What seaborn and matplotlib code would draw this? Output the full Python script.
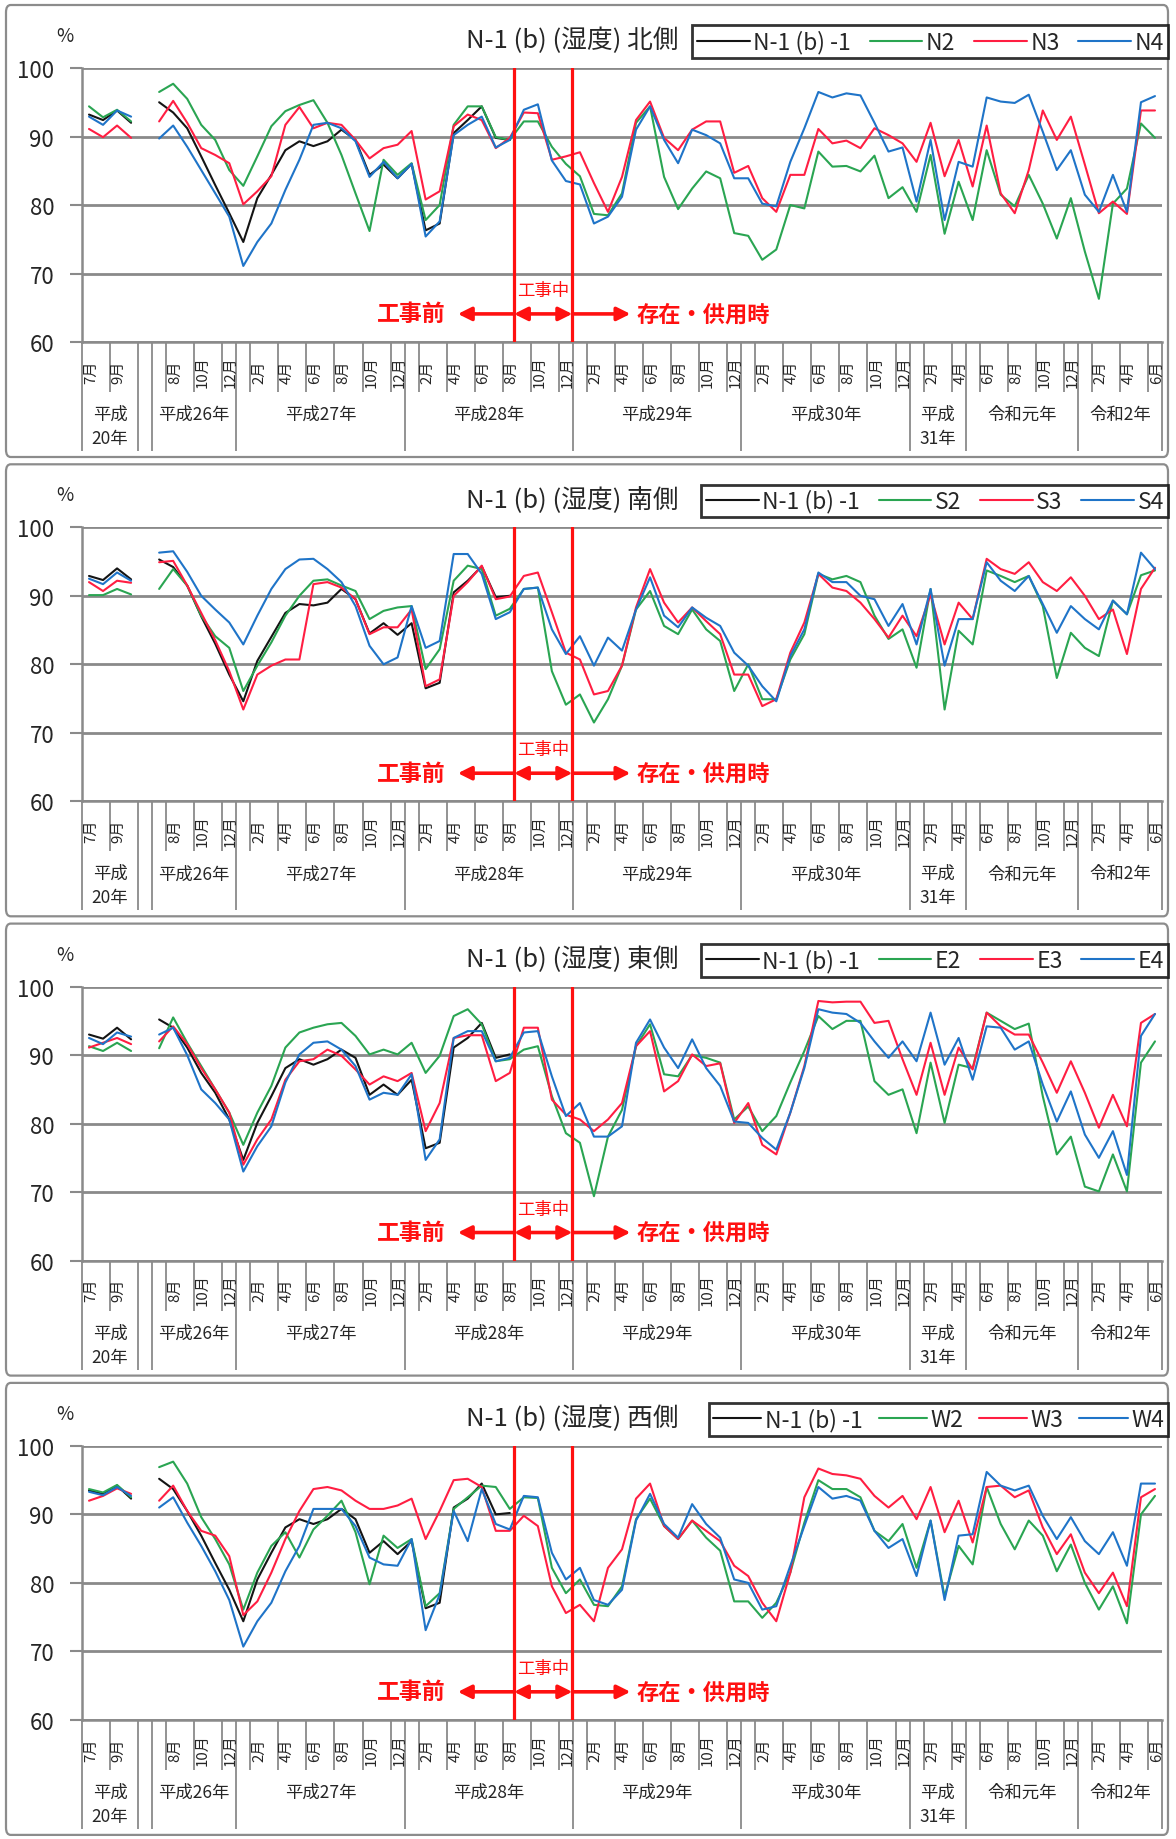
import numpy as np
import pandas as pd
import matplotlib
matplotlib.use("Agg")
import matplotlib.pyplot as plt
from matplotlib.lines import Line2D
from matplotlib.patches import FancyBboxPatch
import seaborn as sns

sns.set_theme(style="white")
plt.rcParams['font.family'] = ['Noto Sans CJK JP', 'DejaVu Sans']

# ---------------- data ----------------
N = None
# month of each category (None = blank gap category)
cat_months = [7, 8, 9, 10, N,
              7, 8, 9, 10, 11, 12,
              1, 2, 3, 4, 5, 6, 7, 8, 9, 10, 11, 12,
              1, 2, 3, 4, 5, 6, 7, 8, 9, 10, 11, 12,
              1, 2, 3, 4, 5, 6, 7, 8, 9, 10, 11, 12,
              1, 2, 3, 4, 5, 6, 7, 8, 9, 10, 11, 12,
              1, 2, 3, 4,
              5, 6, 7, 8, 9, 10, 11, 12,
              1, 2, 3, 4, 5, 6]
year_groups = [("平成\n20年", 0, 3), ("平成26年", 5, 10), ("平成27年", 11, 22),
               ("平成28年", 23, 34), ("平成29年", 35, 46), ("平成30年", 47, 58),
               ("平成\n31年", 59, 62), ("令和元年", 63, 70), ("令和2年", 71, 76)]

panel_titles = ["N-1 (b) (湿度) 北側", "N-1 (b) (湿度) 南側",
                "N-1 (b) (湿度) 東側", "N-1 (b) (湿度) 西側"]
series_names = [["N-1 (b) -1", "N2", "N3", "N4"],
                ["N-1 (b) -1", "S2", "S3", "S4"],
                ["N-1 (b) -1", "E2", "E3", "E4"],
                ["N-1 (b) -1", "W2", "W3", "W4"]]

TAIL = [N] * 46

# ---- north ----
north_ref = [93.2, 92.4, 93.8, 92.0, N,
             95.0, 93.5, 91.2, 87.1, 82.9, 78.8, 74.6, 81.0, 84.4, 88.0, 89.3, 88.6, 89.3,
             91.0, 89.5, 84.4, 85.9, 83.9, 86.0, 76.3, 77.3, 90.5, 92.4, 94.4, 89.8, 89.5] + TAIL
north_2 = [94.4, 92.8, 93.9, 92.2, N,
           96.5, 97.7, 95.5, 91.7, 89.5, 85.1, 82.8, 87.1, 91.5, 93.7, 94.6, 95.3, 92.0, 87.3,
           81.7, 76.2, 86.6, 84.4, 86.1, 77.8, 80.0, 91.7, 94.4, 94.4, 89.9, 89.5, 92.2, 92.2,
           88.5, 86.0, 84.2, 78.7,
           78.5, 81.7, 92.0, 94.4, 84.1, 79.4, 82.4, 84.9, 83.9, 75.9, 75.5, 72.0, 73.5, 80.0,
           79.5, 87.8, 85.6, 85.7, 84.9, 87.2, 81.0, 82.6, 79.0, 87.3, 75.8, 83.4, 77.8, 88.0,
           81.5, 79.8, 84.4, 80.2, 75.1, 81.0, 73.2, 66.3, 80.2, 82.4, 91.9, 89.8]
north_3 = [91.1, 89.9, 91.6, 89.8, N,
           92.2, 95.2, 92.0, 88.3, 87.3, 86.1, 80.1, 82.0, 84.2, 91.7, 94.3, 91.2, 92.0, 91.7,
           89.5, 86.8, 88.3, 88.8, 90.8, 80.8, 82.0, 91.5, 93.2, 92.4, 88.3, 89.8, 93.5, 93.4,
           86.6, 87.1, 87.7, 83.2,
           79.0, 84.1, 92.4, 95.1, 89.8, 88.0, 91.0, 92.2, 92.2, 84.7, 85.7, 81.0, 79.0, 84.4,
           84.4, 91.1, 89.0, 89.4, 88.3, 91.2, 90.2, 89.0, 86.3, 92.0, 84.2, 89.5, 82.7, 91.6,
           81.7, 78.8, 85.1, 93.8, 89.5, 92.9, 85.9, 78.8, 80.5, 78.7, 93.8, 93.8]
north_4 = [92.9, 91.7, 93.8, 92.9, N,
           89.7, 91.6, 88.5, 85.1, 81.7, 78.3, 71.1, 74.6, 77.3, 82.2, 86.6, 91.7, 92.0, 91.2,
           89.3, 84.1, 86.3, 83.9, 86.0, 75.4, 77.6, 90.2, 91.7, 92.9, 88.4, 89.5, 93.9, 94.7,
           86.5, 83.5, 83.0, 77.3,
           78.3, 81.2, 91.0, 94.4, 89.5, 86.1, 91.0, 90.2, 89.0, 83.9, 83.9, 80.2, 79.8, 86.3,
           91.2, 96.5, 95.7, 96.3, 96.0, 92.0, 87.8, 88.4, 80.5, 89.5, 77.8, 86.3, 85.6, 95.7,
           95.1, 94.9, 96.1, 90.7, 85.1, 88.0, 81.5, 79.0, 84.4, 79.0, 95.0, 95.9]

# ---- south ----
south_ref = [92.9, 92.3, 94.0, 92.4, N,
             95.3, 94.2, 91.5, 87.0, 83.0, 78.5, 74.6, 80.5, 84.0, 87.5, 88.8, 88.6, 89.0,
             91.0, 89.5, 84.5, 86.0, 84.3, 86.0, 76.5, 77.3, 90.5, 92.2, 94.3, 89.8, 90.0] + TAIL
south_2 = [90.1, 90.1, 91.0, 90.2, N,
           91.0, 93.9, 91.5, 87.1, 84.1, 82.4, 76.1, 79.8, 83.2, 87.1, 90.0, 92.2, 92.4, 91.5,
           90.7, 86.6, 87.8, 88.3, 88.5, 79.3, 82.2, 92.2, 94.4, 93.9, 87.1, 88.1, 91.0, 91.2,
           79.0, 74.1, 75.6, 71.5,
           74.9, 79.8, 88.0, 90.7, 85.6, 84.4, 88.0, 85.1, 83.4, 76.1, 80.0, 74.9, 74.9, 80.7,
           84.4, 93.2, 92.4, 92.9, 92.0, 87.1, 83.7, 85.1, 79.5, 91.0, 73.4, 84.9, 82.9, 93.7,
           92.9, 92.0, 92.9, 88.5, 78.0, 84.6, 82.4, 81.2, 89.3, 87.3, 93.0, 93.7]
south_3 = [92.0, 90.7, 92.2, 91.9, N,
           94.9, 95.1, 91.5, 87.5, 83.5, 79.0, 73.4, 78.5, 79.8, 80.7, 80.7, 91.7, 92.0, 91.2,
           89.5, 84.4, 85.4, 85.4, 88.0, 76.8, 77.8, 90.0, 92.0, 94.4, 89.5, 89.9, 92.9, 93.4,
           87.6, 81.7, 80.7, 75.6,
           76.1, 79.8, 88.3, 93.9, 89.0, 86.1, 88.3, 86.3, 84.4, 78.5, 78.5, 73.9, 74.9, 81.7,
           86.1, 93.2, 91.2, 90.7, 89.0, 86.6, 83.9, 87.1, 84.1, 90.2, 82.9, 89.0, 86.6, 95.4,
           93.9, 93.2, 94.9, 92.0, 90.7, 92.7, 90.0, 86.6, 88.0, 81.5, 91.0, 94.1]
south_4 = [92.5, 91.7, 93.4, 92.2, N,
           96.3, 96.5, 93.5, 90.0, 88.0, 86.1, 82.9, 87.1, 91.0, 93.9, 95.3, 95.4, 93.9, 92.0,
           88.5, 82.7, 80.0, 81.0, 88.5, 82.4, 83.4, 96.1, 96.1, 93.2, 86.6, 87.6, 91.0, 91.2,
           85.1, 81.5, 84.1, 79.8,
           83.9, 82.0, 88.0, 92.7, 87.1, 85.4, 88.3, 86.8, 85.6, 81.7, 79.8, 76.8, 74.6, 81.2,
           85.1, 93.4, 92.0, 92.0, 90.0, 89.5, 85.6, 88.8, 82.9, 91.0, 79.8, 86.6, 86.6, 94.9,
           92.2, 90.7, 92.9, 88.8, 84.6, 88.5, 86.6, 85.1, 89.3, 87.3, 96.3, 93.9]

# ---- east ----
east_ref = [93.0, 92.4, 94.0, 92.3, N,
            95.2, 94.0, 91.1, 87.4, 84.5, 80.6, 74.7, 80.1, 84.0, 88.1, 89.4, 88.6, 89.4,
            90.8, 89.6, 84.2, 85.7, 84.2, 86.4, 76.4, 77.2, 91.1, 92.5, 94.7, 89.6, 90.1] + TAIL
east_2 = [91.3, 90.6, 91.8, 90.6, N,
          91.0, 95.5, 91.8, 88.4, 85.0, 81.6, 76.9, 81.6, 85.5, 91.1, 93.3, 94.0, 94.5, 94.7,
          92.8, 90.1, 90.8, 90.1, 91.8, 87.4, 89.9, 95.7, 96.7, 94.5, 89.1, 89.4, 90.8, 91.3,
          84.0, 78.6, 77.2, 69.4,
          78.1, 82.0, 91.3, 94.5, 87.2, 86.9, 90.0, 89.6, 88.9, 80.6, 82.5, 78.9, 81.1, 86.0,
          90.6, 95.7, 93.8, 95.0, 95.0, 86.2, 84.2, 85.0, 78.6, 88.9, 80.1, 88.6, 88.1, 96.2,
          95.0, 93.8, 94.6, 84.0, 75.5, 78.1, 70.8, 70.1, 75.5, 70.1, 88.9, 92.0]
east_3 = [91.1, 91.8, 92.5, 91.6, N,
          92.0, 94.2, 91.6, 88.1, 85.0, 81.6, 74.0, 77.7, 80.6, 86.4, 89.1, 89.4, 90.8, 89.9,
          87.9, 85.7, 86.9, 86.2, 87.4, 78.9, 83.0, 92.5, 92.9, 92.9, 86.2, 87.4, 94.0, 94.0,
          83.5, 81.3, 80.6, 78.9,
          80.6, 83.0, 91.3, 93.5, 84.7, 86.2, 90.1, 88.4, 88.8, 80.1, 83.0, 76.9, 75.5, 81.6,
          88.4, 97.9, 97.7, 97.8, 97.8, 94.7, 95.0, 89.4, 84.2, 91.8, 84.2, 91.1, 87.9, 96.2,
          94.2, 93.0, 93.0, 88.9, 84.5, 89.1, 84.5, 79.4, 84.2, 79.6, 94.7, 96.0]
east_4 = [92.5, 91.6, 93.3, 92.7, N,
          93.0, 94.0, 90.0, 85.0, 83.0, 80.6, 73.0, 76.7, 79.6, 86.0, 90.1, 91.8, 92.0, 90.8,
          88.4, 83.5, 84.5, 84.2, 87.2, 74.7, 77.7, 92.5, 93.5, 93.5, 89.1, 89.6, 93.3, 93.5,
          86.9, 81.1, 83.0, 78.1,
          78.1, 79.6, 91.8, 95.2, 91.1, 88.1, 92.3, 88.1, 85.5, 80.3, 80.1, 77.9, 76.2, 81.6,
          88.1, 96.7, 96.2, 96.0, 94.7, 92.0, 89.6, 92.0, 89.1, 96.2, 88.6, 92.5, 86.4, 94.2,
          94.0, 90.8, 92.0, 85.7, 80.3, 84.7, 78.4, 75.0, 78.9, 72.5, 92.8, 96.0]

# ---- west ----
west_ref = [93.5, 93.0, 94.2, 92.3, N,
            95.2, 93.7, 90.5, 86.9, 82.9, 79.0, 74.4, 80.5, 84.4, 88.1, 89.3, 88.6, 89.3,
            90.8, 89.3, 84.4, 86.1, 84.2, 86.1, 76.3, 77.1, 91.0, 92.3, 94.5, 90.0, 90.2] + TAIL
west_2 = [93.7, 93.2, 94.3, 92.5, N,
          96.9, 97.7, 94.5, 89.6, 86.4, 82.7, 76.1, 81.5, 85.4, 87.4, 83.7, 87.8, 89.8, 92.0,
          87.4, 79.8, 86.9, 85.1, 86.4, 76.6, 78.5, 90.8, 92.5, 94.2, 94.0, 90.8, 92.5, 92.4,
          82.2, 78.5, 80.5, 76.8,
          76.6, 79.5, 89.3, 92.3, 88.3, 86.4, 89.1, 86.6, 84.7, 77.3, 77.3, 74.9, 77.1, 81.5,
          88.8, 95.0, 93.7, 93.7, 92.5, 87.6, 86.1, 88.6, 82.2, 89.1, 78.0, 85.4, 82.7, 94.0,
          88.6, 84.9, 89.1, 86.9, 81.7, 85.6, 80.0, 76.1, 79.5, 74.1, 90.0, 92.7]
west_3 = [92.0, 92.7, 93.8, 93.0, N,
          92.0, 94.2, 90.5, 87.6, 86.9, 83.9, 75.3, 77.3, 81.5, 86.4, 90.5, 93.7, 94.0, 93.5,
          92.0, 90.8, 90.8, 91.3, 92.3, 86.4, 90.5, 95.0, 95.2, 94.0, 87.6, 87.6, 89.8, 88.3,
          79.5, 75.6, 76.8, 74.4,
          82.2, 84.9, 92.3, 94.5, 88.3, 86.4, 89.1, 87.6, 86.1, 82.5, 81.0, 77.1, 74.4, 81.5,
          92.5, 96.7, 95.9, 95.7, 95.2, 92.7, 91.0, 92.7, 89.3, 94.0, 87.4, 92.0, 85.9, 94.0,
          94.2, 92.5, 93.5, 88.1, 84.2, 87.1, 81.5, 78.5, 81.5, 76.6, 92.5, 93.7]
west_4 = [93.3, 92.8, 94.0, 92.7, N,
          91.0, 92.5, 88.8, 85.4, 81.7, 77.5, 70.7, 74.4, 77.1, 81.7, 85.4, 90.8, 90.8, 90.8,
          88.3, 83.7, 82.7, 82.5, 86.4, 73.1, 78.3, 90.5, 86.1, 93.7, 88.6, 87.8, 92.7, 92.5,
          84.4, 80.5, 82.2, 77.5,
          76.8, 79.0, 89.1, 93.0, 88.6, 86.6, 91.5, 88.6, 86.6, 80.5, 80.0, 76.1, 76.6, 82.5,
          88.3, 94.0, 92.3, 92.7, 92.0, 87.6, 85.1, 86.4, 81.0, 89.1, 77.5, 86.9, 87.1, 96.2,
          94.2, 93.5, 94.2, 89.8, 86.4, 89.6, 86.1, 84.2, 87.4, 82.5, 94.5, 94.5]

panels = [[north_ref, north_2, north_3, north_4],
          [south_ref, south_2, south_3, south_4],
          [east_ref, east_2, east_3, east_4],
          [west_ref, west_2, west_3, west_4]]

# phase boundaries (category coordinates) and phase labels
construction_start = 30.3
construction_end = 34.45
phase_labels = ["工事前", "工事中", "存在・供用時"]

# ---------------- style ----------------
colors = ['#141414', '#2aa552', '#ff1e42', '#1f74c8']
RED = '#ff1010'
GRID = '#8a8a8a'
W, H = 1176, 1840
fig = plt.figure(figsize=(W / 100, H / 100), dpi=100)
fig.patch.set_facecolor('white')

n_cat = len(cat_months)
idx = np.arange(n_cat)
seg = np.where(idx < 4, 0, 1)

long_ticks = [-0.5] + [g[2] + 0.5 for g in year_groups] + [4.5]
short_ticks = []
for i, m in enumerate(cat_months):
    if m is None:
        continue
    show = (m % 2 == 1) if i < 4 else (m % 2 == 0)
    if show and (i - 0.5) not in long_ticks:
        short_ticks.append(i - 0.5)

AX_H = 274
for k in range(4):
    top = 69 + 459.3 * k
    # panel frame
    ftop = 6 + 459.3 * k
    frame = FancyBboxPatch((6 / W, 1 - (ftop + 452) / H), 1162 / W, 452 / H,
                           boxstyle="round,pad=0,rounding_size=0.004",
                           transform=fig.transFigure, facecolor='none',
                           edgecolor='#8c8c8c', lw=1.6, zorder=-5)
    fig.add_artist(frame)

    ax = fig.add_axes([82 / W, 1 - (top + AX_H) / H, 1080 / W, AX_H / H])
    ax.set_facecolor('none')
    ax.set_zorder(2)

    for s in range(4):
        vals = panels[k][s]
        df = pd.DataFrame({'x': idx, 'y': pd.to_numeric(pd.Series(vals), errors='coerce'),
                           'seg': seg})
        df = df.dropna()
        sns.lineplot(data=df, x='x', y='y', units='seg', estimator=None,
                     color=colors[s], lw=1.5, ax=ax, legend=False, zorder=3 + s)

    ax.set_xlim(-0.5, n_cat - 0.5)
    ax.set_ylim(60, 100)
    ax.set_yticks([60, 70, 80, 90, 100])
    ax.set_yticklabels(['60', '70', '80', '90', '100'], fontsize=16)
    ax.tick_params(axis='y', length=9, width=1.5, color=GRID, pad=11, left=True)
    ax.set_xticks([])
    ax.set_xlabel('')
    ax.set_ylabel('')
    ax.yaxis.grid(True, color=GRID, lw=2)
    ax.set_axisbelow(True)
    for sp in ['top', 'right']:
        ax.spines[sp].set_visible(False)
    for sp in ['left', 'bottom']:
        ax.spines[sp].set_color(GRID)
        ax.spines[sp].set_linewidth(1.8)

    tr = ax.get_xaxis_transform()
    ax.vlines(short_ticks, -50 / AX_H, 0, colors=GRID, lw=1.3, transform=tr, clip_on=False)
    ax.vlines(long_ticks, -109 / AX_H, 0, colors=GRID, lw=1.3, transform=tr, clip_on=False)

    for i, m in enumerate(cat_months):
        if m is None:
            continue
        show = (m % 2 == 1) if i < 4 else (m % 2 == 0)
        if show:
            ax.text(i + 0.12, -29 / AX_H, f"{m}月", rotation=90, ha='center', va='center',
                    fontsize=10.8, transform=tr)
    for lab, a, b in year_groups:
        yy = -84 / AX_H if '\n' in lab else -72 / AX_H
        ax.text((a + b) / 2, yy, lab, ha='center', va='center', fontsize=12.5,
                linespacing=1.45, transform=tr)

    # phase lines and annotations
    ax.axvline(construction_start, color=RED, lw=2.3, zorder=10)
    ax.axvline(construction_end, color=RED, lw=2.3, zorder=10)
    ya = 64.1
    ap = dict(color=RED, lw=2.6, mutation_scale=20, shrinkA=0, shrinkB=0)
    ax.annotate('', xy=(26.3, ya), xytext=(construction_start, ya),
                arrowprops=dict(arrowstyle='-|>', **ap), zorder=11)
    ax.annotate('', xy=(construction_start, ya), xytext=(construction_end, ya),
                arrowprops=dict(arrowstyle='<|-|>', **ap), zorder=11)
    ax.annotate('', xy=(38.6, ya), xytext=(construction_end, ya),
                arrowprops=dict(arrowstyle='-|>', **ap), zorder=11)
    ax.text(22.95, ya, phase_labels[0], color=RED, fontsize=16.5, ha='center', va='center',
            fontweight='bold')
    ax.text((construction_start + construction_end) / 2, 67.6, phase_labels[1], color=RED,
            fontsize=12.5, ha='center', va='center')
    ax.text(43.8, ya, phase_labels[2], color=RED, fontsize=16, ha='center', va='center',
            fontweight='bold')

    # title, unit, legend
    ax.text(0.552, 1.102, panel_titles[k], ha='right', va='center', fontsize=18.5,
            transform=ax.transAxes)
    ax.text(-0.016, 1.118, '%', ha='center', va='center', fontsize=13.5,
            transform=ax.transAxes)
    wide = series_names[k][1].startswith('W')
    handles = [Line2D([0], [0], color=colors[s], lw=1.5) for s in range(4)]
    leg = ax.legend(handles, series_names[k], loc='lower right',
                    bbox_to_anchor=(1.006, 1.036), ncol=4, frameon=True, fancybox=False,
                    edgecolor='black', fontsize=16.5,
                    handlelength=2.1 if wide else 2.3, handletextpad=0.15,
                    columnspacing=0.7 if wide else 0.82, borderpad=0.2, borderaxespad=0)
    leg.get_frame().set_linewidth(2)

fig.savefig('out.png', dpi=100, facecolor='white')
